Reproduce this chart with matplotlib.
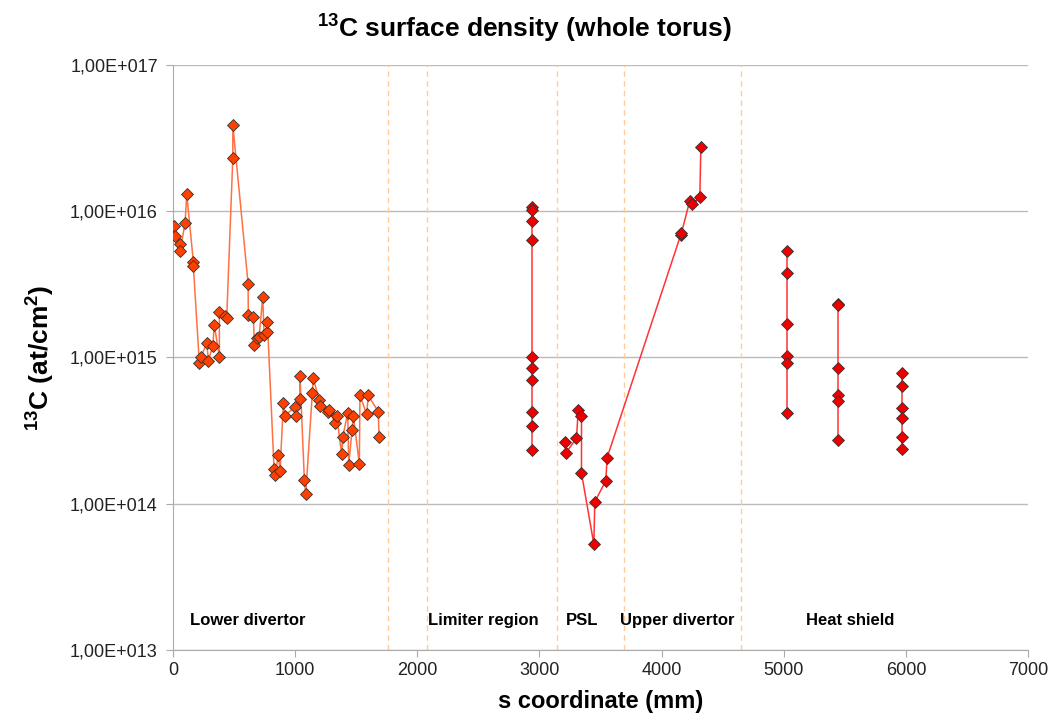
import numpy as np
import matplotlib
matplotlib.use("Agg")
import matplotlib.pyplot as plt
from matplotlib import font_manager
from matplotlib.ticker import FixedLocator, FuncFormatter, NullLocator

names = {f.name for f in font_manager.fontManager.ttflist}
narrow = "Liberation Sans Narrow" if "Liberation Sans Narrow" in names else "Liberation Sans"
plt.rcParams['font.family'] = [narrow, 'DejaVu Sans']
plt.rcParams['mathtext.fontset'] = 'custom'
plt.rcParams['mathtext.rm'] = narrow
plt.rcParams['mathtext.bf'] = narrow + ':bold'

# Lower divertor (s in mm, 13C in at/cm2)
lower_s = [8, 16, 57, 57, 98, 112, 166, 166, 215, 227, 276, 289, 325, 338, 379, 379,
           428, 439, 489, 489, 614, 616, 657, 666, 690, 704, 734, 745, 767, 772,
           827, 835, 862, 876, 903, 917, 998, 1007, 1039, 1039, 1075, 1086, 1140, 1148,
           1197, 1203, 1266, 1279, 1326, 1339, 1380, 1389, 1430, 1438, 1465, 1476,
           1525, 1530, 1585, 1598, 1680, 1686]
lower_c = [7.9e15, 6.8e15, 6.0e15, 5.3e15, 8.3e15, 1.3e16, 4.5e15, 4.2e15, 9.2e14, 1.0e15,
           1.26e15, 9.5e14, 1.2e15, 1.67e15, 1.0e15, 2.05e15, 1.92e15, 1.86e15, 2.3e16, 3.9e16,
           3.2e15, 1.95e15, 1.9e15, 1.22e15, 1.35e15, 1.37e15, 2.6e15, 1.43e15, 1.5e15, 1.76e15,
           1.72e14, 1.57e14, 2.15e14, 1.68e14, 4.9e14, 4.0e14, 4.6e14, 4.0e14, 5.2e14, 7.5e14,
           1.45e14, 1.16e14, 5.7e14, 7.2e14, 5.1e14, 4.66e14, 4.26e14, 4.4e14, 3.55e14, 4.0e14,
           2.2e14, 2.85e14, 4.2e14, 1.84e14, 3.19e14, 4.0e14, 1.87e14, 5.5e14, 4.1e14, 5.5e14,
           4.26e14, 2.85e14]

# Limiter region
lim_s = [2940] * 10
lim_c = [1.06e16, 1.01e16, 8.5e15, 6.3e15, 1.0e15, 8.5e14, 7.0e14, 4.26e14, 3.4e14, 2.33e14]

# PSL + upper divertor
psl_s = [3208, 3216, 3303, 3317, 3344, 3344, 3445, 3453, 3543, 3554,
         4157, 4162, 4231, 4250, 4313, 4321]
psl_c = [2.65e14, 2.23e14, 2.8e14, 4.37e14, 3.98e14, 1.62e14, 5.3e13, 1.03e14, 1.44e14, 2.07e14,
         6.9e15, 7.07e15, 1.18e16, 1.11e16, 1.25e16, 2.73e16]

# Heat shield columns
hs1_s = [5025] * 6
hs1_c = [5.37e15, 3.8e15, 1.69e15, 1.02e15, 9.2e14, 4.15e14]
hs2_s = [5448] * 6
hs2_c = [2.32e15, 2.29e15, 8.5e14, 5.5e14, 5.07e14, 2.73e14]
hs3_s = [5966] * 6
hs3_c = [7.87e14, 6.38e14, 4.54e14, 3.87e14, 2.85e14, 2.35e14]

region_bounds = [1760, 2080, 3140, 3690, 4650]
region_names = ["Lower divertor", "Limiter region", "PSL", "Upper divertor", "Heat shield"]
region_x = [140, 2087, 3216, 3660, 5180]

fig = plt.figure(figsize=(10.49, 7.28), dpi=100)
ax = fig.add_axes([0.165, 0.107, 0.815, 0.804])

for b in region_bounds:
    ax.axvline(b, color='#FFCC99', lw=1, ls=(0, (4, 3)), zorder=1)

ax.plot(lower_s, lower_c, color='#FF7043', lw=1.1, marker='D', ms=6,
        mfc='#FF4000', mec='#333333', mew=0.6, zorder=3)
for s, c in [(lim_s, lim_c), (psl_s, psl_c), (hs1_s, hs1_c), (hs2_s, hs2_c), (hs3_s, hs3_c)]:
    ax.plot(s, c, color='#FF3333', lw=1.1, marker='D', ms=6,
            mfc='#EE0000', mec='#333333', mew=0.6, zorder=3)

for name, x in zip(region_names, region_x):
    ax.text(x, 1.6e13, name, fontsize=12, fontweight='bold', ha='left', va='center')

ax.set_yscale('log')
ax.set_ylim(1e13, 1e17)
ax.set_xlim(0, 7000)
ax.yaxis.set_major_locator(FixedLocator([1e13, 1e14, 1e15, 1e16, 1e17]))
ax.yaxis.set_minor_locator(NullLocator())
ax.yaxis.set_major_formatter(FuncFormatter(lambda v, p: "1,00E+%03d" % int(round(np.log10(v)))))
ax.set_xticks(range(0, 7001, 1000))

ax.grid(axis='y', color='#BBBBBB', lw=1)
ax.set_axisbelow(True)
for sp in ['top', 'right']:
    ax.spines[sp].set_visible(False)
for sp in ['left', 'bottom']:
    ax.spines[sp].set_color('#AAAAAA')
ax.tick_params(axis='both', colors='#AAAAAA', labelcolor='#222222', labelsize=13, length=5)
ax.tick_params(axis='y', pad=6)

fig.text(0.5, 1 - 28 / 728, r'$^{\mathbf{13}}$C surface density (whole torus)', fontsize=19,
         fontweight='bold', ha='center', va='center')
ax.set_xlabel('s coordinate (mm)', fontsize=17, fontweight='bold', labelpad=8)
ax.set_ylabel(r'$^{\mathbf{13}}$C (at/cm$^{\mathbf{2}}$)', fontsize=19, fontweight='bold', labelpad=10)

fig.savefig('out.png', dpi=100)
